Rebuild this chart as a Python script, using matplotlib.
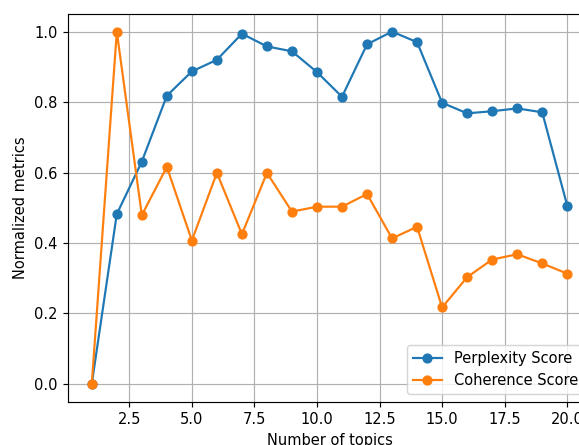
import numpy as np
import matplotlib.pyplot as plt

# number of topics vs normalized scores
n_topics = list(range(1, 21))
perplexity = [0.0, 0.482, 0.631, 0.818, 0.887, 0.920, 0.994, 0.958, 0.944, 0.885,
              0.815, 0.964, 1.0, 0.970, 0.798, 0.768, 0.774, 0.782, 0.771, 0.506]
coherence = [0.0, 1.0, 0.479, 0.616, 0.407, 0.599, 0.425, 0.599, 0.489, 0.503,
             0.503, 0.539, 0.413, 0.446, 0.217, 0.303, 0.353, 0.368, 0.342, 0.313]

DPI = 105
fig = plt.figure(figsize=(579 / DPI, 445 / DPI), dpi=DPI)
# the reference is a crop: right spine and part of the legend fall outside
ax = fig.add_axes([68 / 579, (445 - 401.5) / 445, 523 / 579, 387.5 / 445])

ax.plot(n_topics, perplexity, "-o", label="Perplexity Score")
ax.plot(n_topics, coherence, "-o", label="Coherence Score")
ax.set_xlabel("Number of topics")
ax.set_ylabel("Normalized metrics")
ax.legend(loc="lower right")
ax.grid(True)

fig.savefig("out.png", dpi=DPI)
